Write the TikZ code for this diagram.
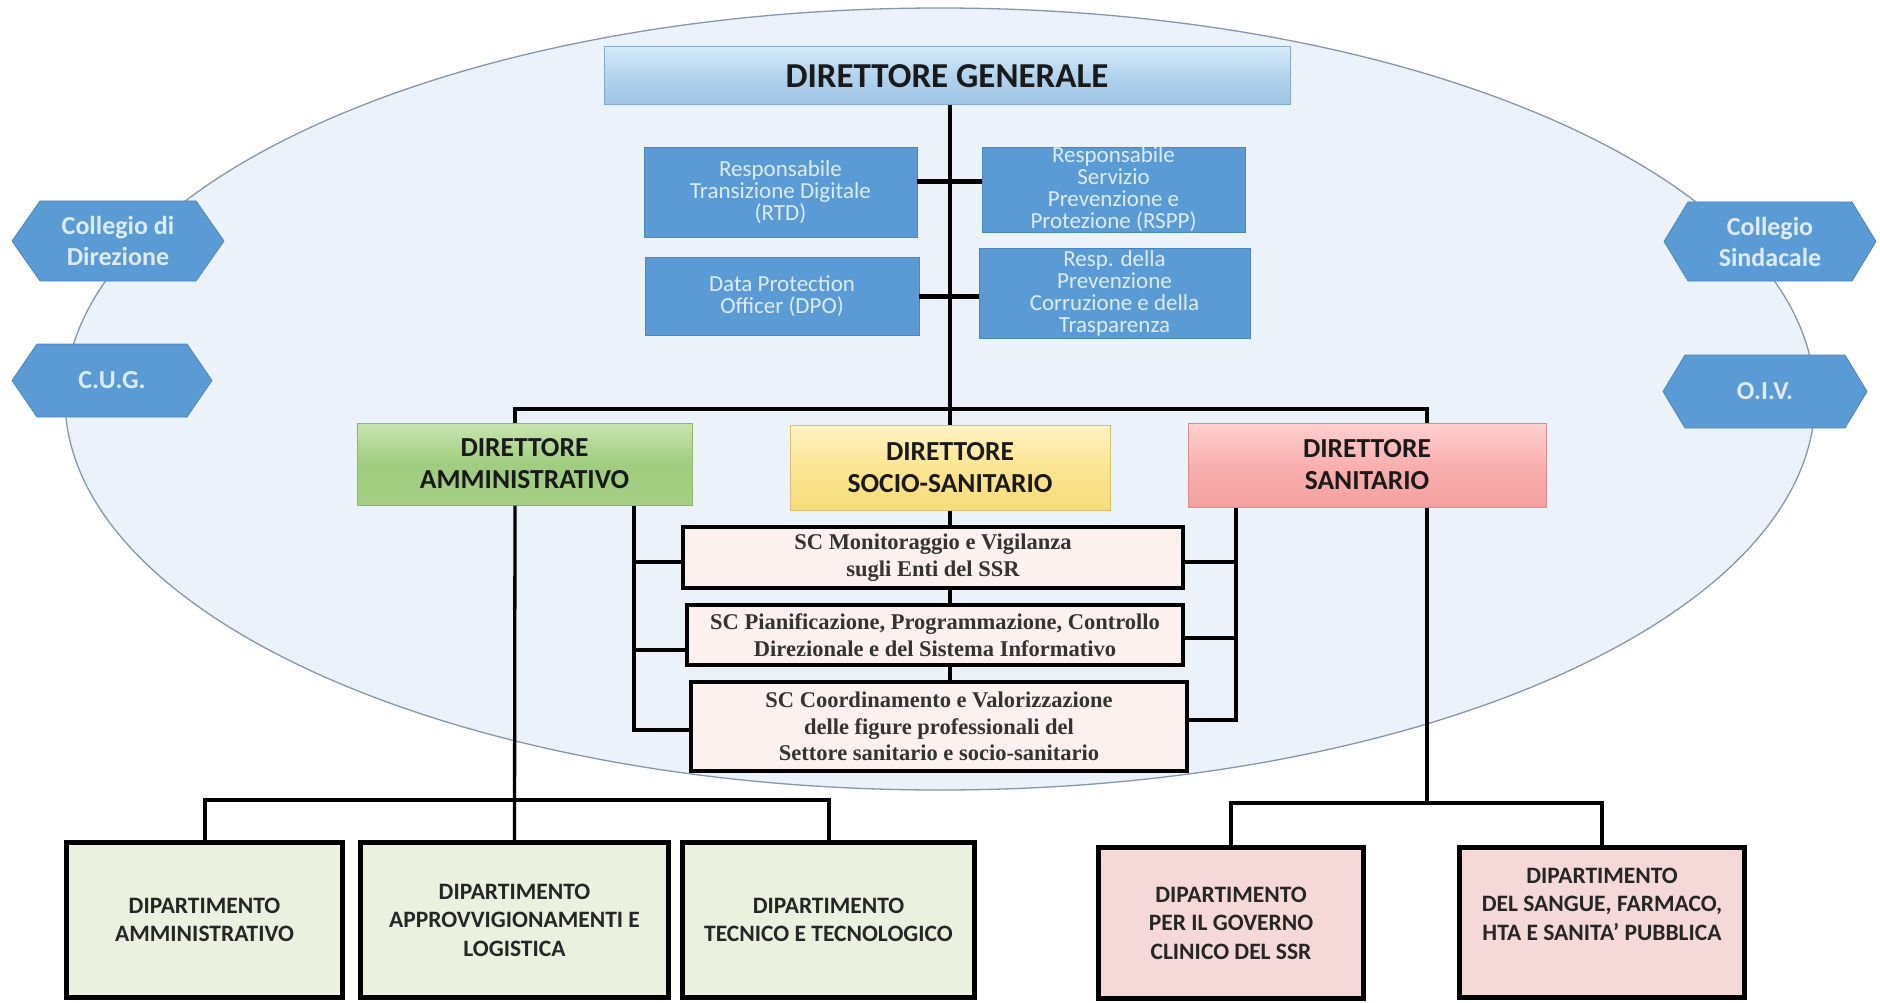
\documentclass[tikz,border=0pt]{standalone}
\usepackage{fontspec}
\setmainfont{Carlito}
\newfontfamily\scserif{Liberation Serif}
\usetikzlibrary{shapes.geometric,calc}
\definecolor{ovalfill}{HTML}{EBF2FA}
\definecolor{ovaledge}{HTML}{8797AB}
\definecolor{boxblue}{HTML}{5B9BD5}
\definecolor{blueedge}{HTML}{4C86BE}
\definecolor{lighttext}{HTML}{DEEBF7}
\definecolor{dirtext}{HTML}{1A1A1A}
\definecolor{sctext}{HTML}{333333}
\definecolor{deptext}{HTML}{262626}
\definecolor{scfill}{HTML}{FCF1EF}
\definecolor{depgreen}{HTML}{EBF1DF}
\definecolor{deppink}{HTML}{F4D9D8}
\definecolor{dgtop}{HTML}{D5ECFA}
\definecolor{dgmid}{HTML}{B2D3EE}
\definecolor{dgbot}{HTML}{9FC4E6}
\definecolor{dgedge}{HTML}{86A9CC}
\definecolor{gatop}{HTML}{C9E5B0}
\definecolor{gamid}{HTML}{A0CD7F}
\definecolor{gabot}{HTML}{A5CF86}
\definecolor{gaedge}{HTML}{8DB56E}
\definecolor{yetop}{HTML}{FFF3C4}
\definecolor{yemid}{HTML}{FBE592}
\definecolor{yebot}{HTML}{F7DC7C}
\definecolor{yeedge}{HTML}{D9C070}
\definecolor{retop}{HTML}{FFD0D0}
\definecolor{remid}{HTML}{F9AFAF}
\definecolor{rebot}{HTML}{F5A0A0}
\definecolor{reedge}{HTML}{D88C8C}
\tikzset{
  conn/.style={line width=3.3pt, black},
  busline/.style={line width=4pt, black},
  boldconn/.style={line width=5pt, black},
  bluebox/.style={rectangle, fill=boxblue, draw=blueedge, line width=0.8pt, text=lighttext, align=center, inner sep=0pt, font=\fontsize{23}{22}\selectfont},
  dirbox/.style={rectangle, align=center, inner sep=0pt, line width=1pt, text=dirtext, font=\fontsize{27.5}{32}\selectfont\bfseries},
  scbox/.style={rectangle, draw=black, line width=4.5pt, fill=scfill, align=center, inner sep=0pt, text=sctext, font=\scserif\fontsize{22.5}{26.5}\selectfont\bfseries},
  depbox/.style={rectangle, draw=black, line width=5.5pt, align=center, inner sep=0pt, text=deptext, font=\fontsize{23.5}{28.5}\selectfont\bfseries},
  hexfill/.style={fill=boxblue, draw=blueedge, line width=0.8pt},
  hextext/.style={text=lighttext, align=center, inner sep=0pt, font=\fontsize{26}{31}\selectfont\bfseries},
}
\newcommand\hexnode[7]{%
  \filldraw[hexfill] (#2,{(#4+#5)/2}) -- ({#2+#6},#4) -- ({#3-#6},#4) -- (#3,{(#4+#5)/2}) -- ({#3-#6},#5) -- ({#2+#6},#5) -- cycle;
  \node[hextext] (#1) at ({(#2+#3)/2},{(#4+#5)/2}) {#7};}
\begin{document}
\begin{tikzpicture}[x=1pt,y=-1pt]
\useasboundingbox (0,0) rectangle (1880,1003);
\fill[white] (0,0) rectangle (1880,1003);
% background oval
\node[ellipse, minimum width=1750pt, minimum height=782pt, inner sep=0pt, fill=ovalfill, draw=ovaledge, line width=1.3pt] (oval) at (940,399) {};
% side hexagons
\hexnode{cdd}{12}{224}{201}{281}{28}{Collegio di\\Direzione}
\hexnode{cug}{12}{212}{344}{417}{25}{C.U.G.}
\hexnode{cs}{1664}{1876}{202}{281}{24}{Collegio\\Sindacale}
\hexnode{oiv}{1663}{1867}{355}{428}{22}{O.I.V.}
% top
\node[rectangle, minimum width=686pt, minimum height=58pt, inner sep=0pt, top color=dgtop, bottom color=dgbot, middle color=dgmid, draw=dgedge, line width=1pt, text=dirtext, font=\fontsize{35}{40}\selectfont\bfseries] (dg) at (947,76) {DIRETTORE GENERALE};
\node[bluebox, minimum width=273pt, minimum height=90pt] (rtd) at (780.5,192) {Responsabile\\Transizione Digitale\\(RTD)};
\node[bluebox, minimum width=263pt, minimum height=85pt] (rspp) at (1113.5,189.5) {Responsabile\\Servizio\\Prevenzione e\\Protezione (RSPP)};
\node[bluebox, minimum width=274pt, minimum height=78pt] (dpo) at (782,296) {Data Protection\\Officer (DPO)};
\node[bluebox, minimum width=271pt, minimum height=90pt] (resp) at (1114.5,293) {Resp. della\\Prevenzione\\Corruzione e della\\Trasparenza};
% directors
\node[dirbox, minimum width=335pt, minimum height=82pt, top color=gatop, bottom color=gabot, middle color=gamid, draw=gaedge] (da) at (524.5,464) {DIRETTORE\\AMMINISTRATIVO};
\node[dirbox, minimum width=320pt, minimum height=85pt, top color=yetop, bottom color=yebot, middle color=yemid, draw=yeedge] (dss) at (950,467.5) {DIRETTORE\\SOCIO-SANITARIO};
\node[dirbox, minimum width=358pt, minimum height=84pt, top color=retop, bottom color=rebot, middle color=remid, draw=reedge] (ds) at (1367,465) {DIRETTORE\\SANITARIO};
% SC boxes
\node[scbox, minimum width=500pt, minimum height=61pt] (sc1) at (933,557.5) {SC Monitoraggio e Vigilanza\\sugli Enti del SSR};
\node[scbox, minimum width=496pt, minimum height=60pt] (sc2) at (935,635) {SC Pianificazione, Programmazione, Controllo\\Direzionale e del Sistema Informativo};
\node[scbox, minimum width=496pt, minimum height=89pt] (sc3) at (939,726.5) {SC Coordinamento e Valorizzazione\\delle figure professionali del\\Settore sanitario e socio-sanitario};
% departments
\node[depbox, fill=depgreen, minimum width=276pt, minimum height=155pt] (damm) at (204.5,920) {DIPARTIMENTO\\AMMINISTRATIVO};
\node[depbox, fill=depgreen, minimum width=308pt, minimum height=155pt] (dal) at (514.5,920) {DIPARTIMENTO\\APPROVVIGIONAMENTI E\\LOGISTICA};
\node[depbox, fill=depgreen, minimum width=292pt, minimum height=155pt] (dtt) at (828.5,920) {DIPARTIMENTO\\TECNICO E TECNOLOGICO};
\node[depbox, fill=deppink, minimum width=265pt, minimum height=151pt] (dgc) at (1231,923) {DIPARTIMENTO\\PER IL GOVERNO\\CLINICO DEL SSR};
\node[depbox, fill=deppink, minimum width=285pt, minimum height=150pt] (dsf) at (1602,922.5) {DIPARTIMENTO\\DEL SANGUE, FARMACO,\\HTA E SANITA’ PUBBLICA\\\strut};
% helper coordinates
\coordinate (busy) at (0,409);
\coordinate (dax) at (515,0);
\coordinate (dsx) at (1427,0);
\coordinate (lbx) at (634,0);
\coordinate (rbx) at (1236,0);
\coordinate (lbusy) at (0,800);
\coordinate (rbusy) at (0,803);
\coordinate (l1) at ([yshift=-4.5pt]sc1.west);
\coordinate (l2) at ([yshift=-15pt]sc2.west);
\coordinate (l3) at ([yshift=-3.5pt]sc3.west);
\coordinate (r1) at ([yshift=-4.5pt]sc1.east);
\coordinate (r2) at ([yshift=-3pt]sc2.east);
\coordinate (r3) at ([yshift=6.5pt]sc3.east);
\coordinate (t1) at ([yshift=10pt]rtd.east);
% connectors
\draw[conn] (dg.south -| dss.north) -- (dss.north);
\draw[boldconn] (t1) -- (t1 -| rspp.west);
\draw[boldconn] (dpo.east) -- (dpo.east -| resp.west);
\draw[busline, line join=miter] (dax |- da.north) -- (dax |- busy) -- (dsx |- busy) -- (dsx |- ds.north);
\draw[conn] (dax |- da.south) -- (dal.north);
\draw[busline, line join=miter] (damm.north) |- (dax |- lbusy) -| (dtt.north);
\draw[conn] (dsx |- ds.south) -- (dsx |- rbusy);
\draw[busline, line join=miter] (dgc.north) |- (dsx |- rbusy) -| (dsf.north);
% SC links
\draw[conn] (dss.south) -- (dss.south |- sc1.north);
\draw[conn] (dss.south |- sc1.south) -- (dss.south |- sc2.north);
\draw[conn] (dss.south |- sc2.south) -- (dss.south |- sc3.north);
\draw[conn] (lbx |- da.south) |- (l3);
\draw[conn] (lbx |- l1) -- (l1);
\draw[conn] (lbx |- l2) -- (l2);
\draw[conn] (rbx |- ds.south) |- (r3);
\draw[conn] (rbx |- r1) -- (r1);
\draw[conn] (rbx |- r2) -- (r2);
\end{tikzpicture}
\end{document}
